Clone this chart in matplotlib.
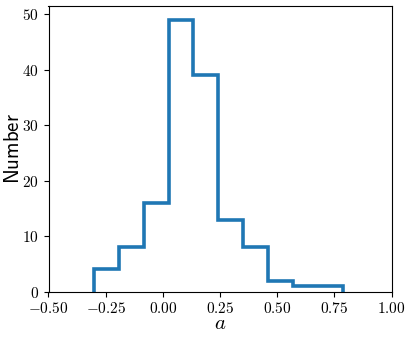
import matplotlib
matplotlib.use("Agg")
import matplotlib.pyplot as plt
import numpy as np

plt.rcParams['mathtext.fontset'] = 'cm'
plt.rcParams['font.family'] = 'serif'
plt.rcParams['font.serif'] = ['cmr10']
plt.rcParams['axes.formatter.use_mathtext'] = True
plt.rcParams['axes.unicode_minus'] = True

bin_edges = [-0.300, -0.191, -0.083, 0.026, 0.134, 0.243, 0.351, 0.460, 0.569, 0.677, 0.786]
counts = [4, 8, 16, 49, 39, 13, 8, 2, 1, 1]
xticks = [-0.50, -0.25, 0.00, 0.25, 0.50, 0.75, 1.00]
yticks = [0, 10, 20, 30, 40, 50]

fig = plt.figure(figsize=(4.09, 3.39), dpi=100)
ax = fig.add_axes([48.5/409, 1-291.7/339, (391.5-48.5)/409, (291.7-6)/339])
ax.stairs(counts, bin_edges, color='#1f77b4', lw=2.6, baseline=0)
ax.set_xlim(-0.5, 1.0)
ax.set_ylim(0, 51.45)
ax.set_xticks(xticks)
ax.set_xticklabels([f"${t:.2f}$" for t in xticks], fontsize=11)
ax.set_yticks(yticks)
ax.set_yticklabels([f"${t}$" for t in yticks], fontsize=11)
ax.set_xlabel(r"$a$", fontsize=15, labelpad=-1)
ax.set_ylabel(r"$\mathsf{Number}$", fontsize=15, labelpad=-1)
fig.savefig("out.png", dpi=100)
